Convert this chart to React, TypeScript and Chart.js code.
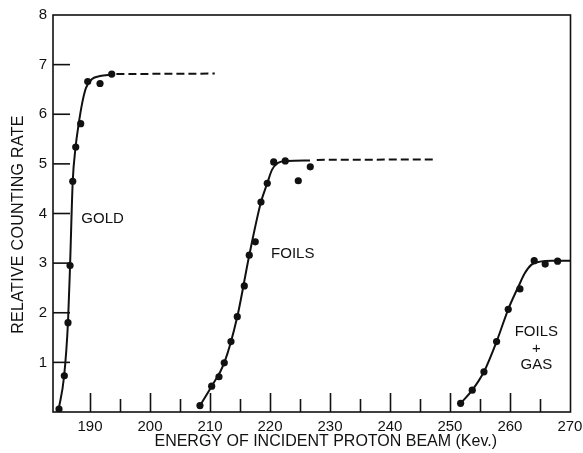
import React, { useEffect, useRef } from "react";
import { Chart, registerables } from "chart.js";

Chart.register(...registerables);

// Axis ticks
const xMajorTicks = [190, 200, 210, 220, 230, 240, 250, 260, 270];
const xMinorTicks = [195, 205, 215, 225, 235, 245, 255, 265];
const yTicks = [1, 2, 3, 4, 5, 6, 7, 8];

// Gold target: measured points
const goldEnergy = [184.83, 185.72, 186.33, 186.67, 187.12, 187.62, 188.45, 189.62, 191.67, 193.62];
const goldRate = [0.06, 0.73, 1.8, 2.95, 4.65, 5.34, 5.81, 6.66, 6.62, 6.81];
// Gold: drawn curve through the data
const goldCurveEnergy = [184.75, 185.67, 186.33, 186.67, 187.12, 187.58, 188.08, 188.67, 189.33, 190.33, 191.67, 193.67];
const goldCurveRate = [0.04, 0.71, 1.81, 2.94, 4.65, 5.32, 5.78, 6.21, 6.53, 6.71, 6.77, 6.8];
// Gold: extrapolated plateau
const goldPlateauEnergy = [194.4, 210.8];
const goldPlateauRate = [6.81, 6.82];

// Foils: measured points
const foilsEnergy = [208.33, 210.28, 211.5, 212.38, 213.5, 214.55, 215.72, 216.55, 217.55, 218.5, 219.55, 220.62, 222.55, 224.72, 226.72];
const foilsRate = [0.13, 0.52, 0.71, 0.99, 1.42, 1.92, 2.54, 3.16, 3.43, 4.23, 4.61, 5.04, 5.06, 4.66, 4.94];
// Foils: drawn curve
const foilsCurveEnergy = [208.33, 210.28, 212.38, 214.55, 216.55, 218.5, 219.55, 220.33, 221.33, 222.83, 226.67];
const foilsCurveRate = [0.13, 0.52, 0.99, 1.92, 3.16, 4.23, 4.61, 4.88, 5.02, 5.06, 5.07];
// Foils: extrapolated plateau
const foilsPlateauEnergy = [227.8, 247.8];
const foilsPlateauRate = [5.08, 5.09];

// Foils + gas: measured points
const gasEnergy = [251.78, 253.72, 255.67, 257.78, 259.72, 261.67, 264.05, 265.88, 267.95];
const gasRate = [0.175, 0.44, 0.81, 1.42, 2.07, 2.48, 3.05, 2.98, 3.04];
// Foils + gas: drawn curve
const gasCurveEnergy = [251.78, 253.72, 255.67, 257.78, 259.72, 261.5, 262.5, 263.6, 265.0, 267.0, 270.3];
const gasCurveRate = [0.175, 0.44, 0.81, 1.42, 2.07, 2.55, 2.8, 2.97, 3.03, 3.05, 3.05];

// Curve labels (text, energy, rate)
const curveLabels: [string, number, number][] = [
  ["GOLD", 192.1, 3.89],
  ["FOILS", 223.8, 3.19],
  ["FOILS", 264.4, 1.61],
  ["+", 264.4, 1.27],
  ["GAS", 264.4, 0.94],
];

const xTitle = "ENERGY OF INCIDENT PROTON BEAM (Kev.)";
const yTitle = "RELATIVE COUNTING RATE";

const INK = "#111";
const FONT = '"Liberation Sans", Arial, sans-serif';

const pts = (xs: number[], ys: number[]) => xs.map((x, i) => ({ x, y: ys[i] }));

const curve = (xs: number[], ys: number[]) => ({
  data: pts(xs, ys),
  showLine: true,
  pointRadius: 0,
  borderColor: INK,
  borderWidth: 2,
  cubicInterpolationMode: "monotone" as const,
  fill: false,
});

const dashed = (xs: number[], ys: number[]) => ({
  data: pts(xs, ys),
  showLine: true,
  pointRadius: 0,
  borderColor: INK,
  borderWidth: 2,
  borderDash: [8, 4],
  fill: false,
});

const dots = (xs: number[], ys: number[]) => ({
  data: pts(xs, ys),
  showLine: false,
  pointRadius: 3.6,
  pointBackgroundColor: INK,
  pointBorderColor: INK,
  pointBorderWidth: 0,
});

// Box frame, inward tick marks, curve labels and axis titles
const decorations = {
  id: "decorations",
  afterDraw(chart: any) {
    const { ctx, chartArea: a, scales } = chart;
    const x = scales.x;
    const y = scales.y;
    ctx.save();
    ctx.strokeStyle = INK;
    ctx.lineWidth = 1.6;
    ctx.setLineDash([]);
    ctx.strokeRect(a.left, a.top, a.right - a.left, a.bottom - a.top);

    for (const v of xMajorTicks) {
      const px = Math.round(x.getPixelForValue(v)) + 0.5;
      if (px < a.right - 2) {
        ctx.beginPath();
        ctx.moveTo(px, a.bottom);
        ctx.lineTo(px, a.bottom - 19);
        ctx.stroke();
      }
    }
    for (const v of xMinorTicks) {
      const px = Math.round(x.getPixelForValue(v)) + 0.5;
      ctx.beginPath();
      ctx.moveTo(px, a.bottom);
      ctx.lineTo(px, a.bottom - 13);
      ctx.stroke();
    }
    for (const v of yTicks) {
      const py = y.getPixelForValue(v);
      if (py > a.top + 2) {
        ctx.beginPath();
        ctx.moveTo(a.left, py);
        ctx.lineTo(a.left + 17, py);
        ctx.stroke();
      }
    }

    ctx.fillStyle = INK;
    ctx.font = `15px ${FONT}`;
    ctx.textAlign = "center";
    ctx.textBaseline = "middle";
    curveLabels.forEach(([t, ex, ry]) => {
      ctx.fillText(t, x.getPixelForValue(ex), y.getPixelForValue(ry));
    });

    ctx.font = `16px ${FONT}`;
    (ctx as any).letterSpacing = "0px";
    ctx.fillText(xTitle, (a.left + a.right) / 2 + 14, 442);

    ctx.translate(19, (a.top + a.bottom) / 2 + 11);
    ctx.rotate(-Math.PI / 2);
    (ctx as any).letterSpacing = "0.3px";
    ctx.fillText(yTitle, 0, 0);
    ctx.restore();
  },
};

export default function App() {
  const ref = useRef<HTMLCanvasElement | null>(null);

  useEffect(() => {
    if (!ref.current) return;
    const chart = new Chart(ref.current, {
      type: "scatter",
      data: {
        datasets: [
          curve(goldCurveEnergy, goldCurveRate),
          dashed(goldPlateauEnergy, goldPlateauRate),
          curve(foilsCurveEnergy, foilsCurveRate),
          dashed(foilsPlateauEnergy, foilsPlateauRate),
          curve(gasCurveEnergy, gasCurveRate),
          dots(goldEnergy, goldRate),
          dots(foilsEnergy, foilsRate),
          dots(gasEnergy, gasRate),
        ] as any,
      },
      options: {
        animation: false,
        responsive: true,
        maintainAspectRatio: false,
        layout: { padding: { top: 15, right: 12.5, left: 0, bottom: 0 } },
        plugins: { legend: { display: false }, tooltip: { enabled: false } },
        scales: {
          x: {
            type: "linear",
            min: 183.83,
            max: 270.1,
            grid: { display: false, drawTicks: false },
            border: { display: false },
            ticks: {
              color: INK,
              font: { family: FONT, size: 15 },
              padding: 6,
              maxRotation: 0,
              autoSkip: false,
            },
            afterBuildTicks: (s: any) => {
              s.ticks = xMajorTicks.map((value) => ({ value }));
            },
            afterFit: (s: any) => {
              s.height = 41;
              s.paddingLeft = 0;
              s.paddingRight = 0;
            },
          },
          y: {
            type: "linear",
            min: 0,
            max: 8,
            grid: { display: false, drawTicks: false },
            border: { display: false },
            ticks: {
              color: INK,
              font: { family: FONT, size: 15 },
              padding: 6,
              autoSkip: false,
            },
            afterBuildTicks: (s: any) => {
              s.ticks = yTicks.map((value) => ({ value }));
            },
            afterFit: (s: any) => {
              s.width = 53;
              s.paddingTop = 0;
              s.paddingBottom = 0;
            },
          },
        },
      },
      plugins: [decorations],
    });
    return () => chart.destroy();
  }, []);

  return (
    <div style={{ position: "fixed", left: 0, top: 0, width: 583, height: 453, background: "#fff" }}>
      <canvas ref={ref} />
    </div>
  );
}
